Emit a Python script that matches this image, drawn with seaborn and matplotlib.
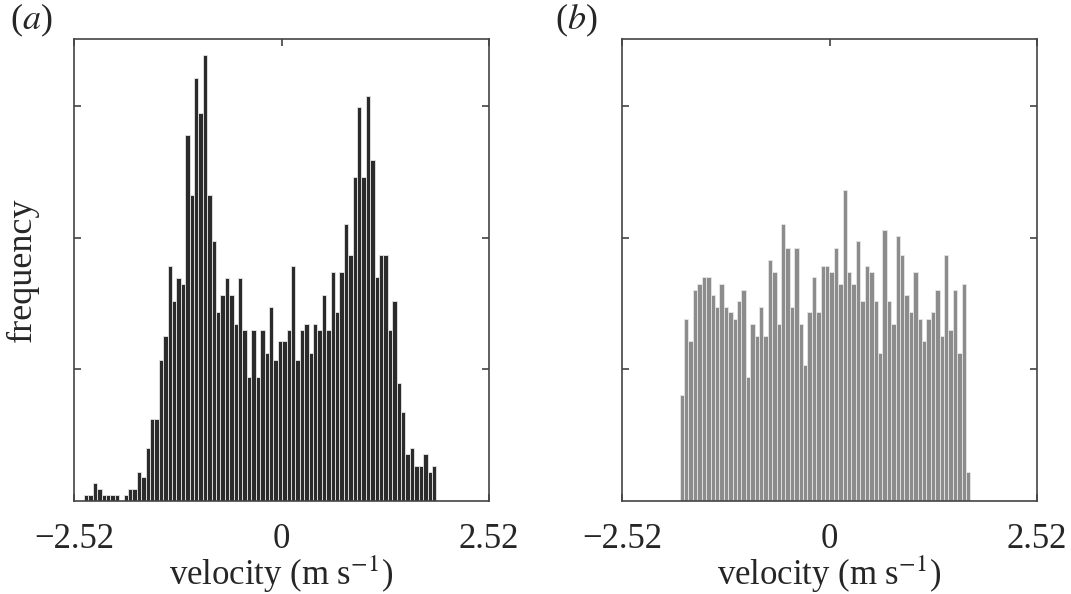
import numpy as np
import pandas as pd
import matplotlib
matplotlib.use("Agg")
import matplotlib.pyplot as plt
import seaborn as sns

# bar heights (tick spacing on the y axis = 100)
counts_a = [4, 4, 13, 9, 4, 4, 4, 4, 0, 4, 9, 9, 22, 18, 40, 62, 62, 107, 125, 178,
            152, 169, 165, 278, 232, 321, 295, 339, 232, 197, 143, 156, 169, 156, 134, 169, 130, 94, 130, 94,
            130, 112, 147, 107, 121, 121, 130, 178, 107, 130, 134, 112, 134, 130, 156, 130, 174, 143, 174, 210,
            187, 246, 299, 246, 308, 259, 170, 187, 187, 130, 152, 89, 67, 35, 40, 26, 26, 35, 22, 26]
counts_b = [80, 138, 121, 160, 165, 170, 170, 156, 147, 165, 147, 143, 138, 152, 160, 94, 134, 125, 147, 125,
            183, 174, 134, 210, 192, 147, 192, 134, 103, 143, 170, 143, 178, 178, 174, 192, 165, 236, 174, 165,
            197, 152, 178, 174, 152, 112, 206, 152, 134, 201, 187, 156, 143, 174, 138, 121, 138, 143, 160, 125,
            187, 130, 160, 112, 165, 22]
start_a = -2.40
start_b = -1.82
bin_width = 0.0535

x_ticks = [-2.52, 0, 2.52]
x_tick_labels = ['\u22122.52', '0', '2.52']
panel_labels = ['($a$)', '($b$)']

sns.set_style('white')
plt.rcParams['font.family'] = ['Liberation Serif', 'DejaVu Serif']
plt.rcParams['mathtext.fontset'] = 'stix'

fig = plt.figure(figsize=(10.71, 5.94), dpi=100)
ax_a = fig.add_axes([0.0691, 0.1574, 0.3875, 0.777])
ax_b = fig.add_axes([0.5808, 0.1574, 0.3875, 0.777])

for ax, counts, start, color in [(ax_a, counts_a, start_a, '#2b2b2b'),
                                 (ax_b, counts_b, start_b, '#8c8c8c')]:
    edges = start + bin_width * np.arange(len(counts) + 1)
    df = pd.DataFrame({'velocity': (edges[:-1] + edges[1:]) / 2, 'count': counts})
    sns.histplot(data=df, x='velocity', weights='count', bins=list(edges), ax=ax, color=color,
                 edgecolor='#e6e6e6', linewidth=0.6, alpha=1)
    ax.set_xlim(-2.52, 2.52)
    ax.set_ylim(0, 351)
    ax.set_xticks(x_ticks)
    ax.set_xticklabels(x_tick_labels)
    ax.set_yticks([100, 200, 300])
    ax.set_yticklabels([])
    ax.tick_params(direction='in', top=True, right=True, left=True, bottom=True,
                   length=5, width=1.1, color='#333333', labelsize=25, pad=16)
    for s in ax.spines.values():
        s.set_visible(True)
        s.set_color('#444444')
        s.set_linewidth(1.2)
    ax.set_xlabel('velocity (m s$^{-1}$)', fontsize=25, labelpad=-2)
    ax.set_ylabel('')

ax_a.set_ylabel('frequency', fontsize=26, labelpad=9)
fig.text(0.009, 0.965, panel_labels[0], fontsize=26, va='center', ha='left')
fig.text(0.518, 0.965, panel_labels[1], fontsize=26, va='center', ha='left')

fig.savefig('out.png', dpi=100)
